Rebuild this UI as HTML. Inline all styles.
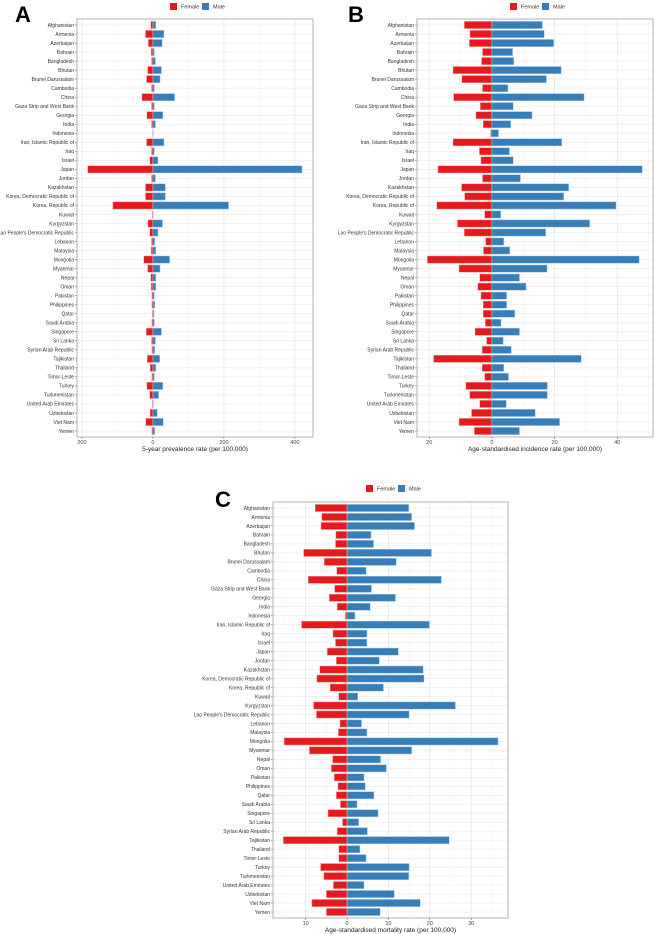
<!DOCTYPE html>
<html><head><meta charset="utf-8">
<style>
html,body{margin:0;padding:0;background:#fff;}
svg{display:block;font-family:"Liberation Sans",sans-serif;}
</style></head>
<body>
<svg id="chart" width="655" height="934" viewBox="0 0 655 934"></svg>
<script>
const countries = ["Afghanistan","Armenia","Azerbaijan","Bahrain","Bangladesh","Bhutan","Brunei Darussalam","Cambodia","China","Gaza Strip and West Bank","Georgia","India","Indonesia","Iran, Islamic Republic of","Iraq","Israel","Japan","Jordan","Kazakhstan","Korea, Democratic Republic of","Korea, Republic of","Kuwait","Kyrgyzstan","Lao People's Democratic Republic","Lebanon","Malaysia","Mongolia","Myanmar","Nepal","Oman","Pakistan","Philippines","Qatar","Saudi Arabia","Singapore","Sri Lanka","Syrian Arab Republic","Tajikistan","Thailand","Timor-Leste","Turkey","Turkmenistan","United Arab Emirates","Uzbekistan","Viet Nam","Yemen"];
const prevFemale = [6,21,13,5,4,15,18,4,31,4,17,4,1,18,4,9,184,4,21,21,113,2,14,9,4,5,26,15,6,5,3,3,2,3,19,4,3,16,8,3,17,9,2,8,20,3];
const prevMale = [8,31,26,4,7,24,20,4,61,4,28,7,1,31,4,14,420,7,35,35,213,1,27,14,5,8,47,20,8,8,4,5,3,4,24,7,5,19,8,4,28,16,0.5,12,29,5];
const incFemale = [8.8,7.0,7.2,3.0,3.3,12.4,9.6,3.0,12.2,3.7,5.1,2.8,0.4,12.4,4.0,3.5,17.2,3.0,9.7,8.7,17.6,2.3,11.0,8.8,2.0,2.7,20.6,10.5,3.9,4.5,3.5,2.8,2.8,2.1,5.4,1.7,3.1,18.6,3.1,2.3,8.3,7.1,3.9,6.5,10.5,5.6];
const incMale = [16.1,16.7,19.7,6.6,7.0,22.1,17.4,5.1,29.4,6.8,12.8,6.0,2.1,22.3,5.6,6.8,48.0,9.1,24.5,22.9,39.6,2.8,31.2,17.2,3.8,5.7,47.0,17.6,8.8,10.9,4.7,4.7,7.3,2.9,8.8,3.6,6.2,28.5,3.8,5.3,17.7,17.7,4.6,13.8,21.6,8.8];
const mortFemale = [7.7,6.1,6.3,2.7,2.8,10.5,5.5,2.5,9.4,3.0,4.3,2.4,0.4,11.0,3.4,2.8,4.8,2.6,6.6,7.3,4.1,2.0,8.1,7.4,1.7,2.1,15.2,9.1,3.5,3.8,3.1,2.2,2.6,1.6,4.6,1.1,2.4,15.4,2.0,2.0,6.4,5.6,3.3,5.0,8.5,5.0];
const mortMale = [14.9,15.6,16.3,5.8,6.4,20.4,11.9,4.6,22.8,5.9,11.7,5.6,1.9,19.9,4.8,4.8,12.4,7.8,18.4,18.6,8.8,2.6,26.2,15.0,3.5,4.8,36.5,15.6,8.1,9.5,4.1,4.4,6.5,2.4,7.5,2.8,4.9,24.7,3.1,4.6,15.0,14.9,4.1,11.4,17.7,8.0];
const prevTicks = [-200,0,200,400];
const prevTickLabels = ["200","0","200","400"];
const incTicks = [-20,0,20,40];
const incTickLabels = ["20","0","20","40"];
const mortTicks = [-10,0,10,20,30];
const mortTickLabels = ["10","0","10","20","30"];

const NS="http://www.w3.org/2000/svg";
const svg=document.getElementById('chart');
function mk(tag,attrs,parent){const e=document.createElementNS(NS,tag);for(const k in attrs)e.setAttribute(k,attrs[k]);(parent||svg).appendChild(e);return e;}

function panel(cfg){
  const g=mk('g',{});
  
  
  const {x0,x1,y0,y1,dmin,dmax}=cfg;
  const xs=v=>x0+(v-dmin)/(dmax-dmin)*(x1-x0);
  const n=countries.length;
  const first=y0+6, last=y1-6;
  const step=(last-first)/(n-1);
  const ys=i=>first+i*step;
  mk('rect',{x:x0,y:y0,width:x1-x0,height:y1-y0,fill:'#fff'},g);
  // minor grid
  const t=cfg.ticks, d=t[1]-t[0];
  for(let v=t[0]-d/2; v<=dmax; v+=d){ if(v<dmin) continue; mk('line',{x1:xs(v),x2:xs(v),y1:y0,y2:y1,stroke:'#f2f2f2','stroke-width':0.5},g);}
  for(let v=t[0]-d; v<=dmax; v+=d){ if(v<dmin) continue; mk('line',{x1:xs(v),x2:xs(v),y1:y0,y2:y1,stroke:'#e6e6e6','stroke-width':0.8},g);}
  for(let i=0;i<n;i++){ mk('line',{x1:x0,x2:x1,y1:ys(i),y2:ys(i),stroke:'#ebebeb','stroke-width':0.7},g);}
  const bh=step*0.8;
  for(let i=0;i<n;i++){
    const z=xs(0);
    const xf=xs(-cfg.female[i]);
    const bf=mk('rect',{x:xf,y:ys(i)-bh/2,width:Math.max(z-xf,0.3),height:bh,fill:'#E41A1C',stroke:'#f4a3a3','stroke-width':0.5},g);
    
    
    const xm=xs(cfg.male[i]);
    const bm=mk('rect',{x:z,y:ys(i)-bh/2,width:Math.max(xm-z,0.3),height:bh,fill:'#377EB8',stroke:'#a9c8e6','stroke-width':0.5},g);
    
    
    const lb=mk('text',{x:x0-3,y:ys(i)+1.8,'font-size':5,'text-anchor':'end',fill:'#333'},g);
    lb.textContent=countries[i];
    
    
    mk('line',{x1:x0-2,x2:x0,y1:ys(i),y2:ys(i),stroke:'#555','stroke-width':0.5},g);
  }
  mk('rect',{x:x0,y:y0,width:x1-x0,height:y1-y0,fill:'none',stroke:'#a0a0a0','stroke-width':0.8},g);
  for(let k=0;k<t.length;k++){
    const x=xs(t[k]);
    mk('line',{x1:x,x2:x,y1:y1,y2:y1+2,stroke:'#555','stroke-width':0.5},g);
    const tl=mk('text',{x:x,y:y1+7,'font-size':5.5,'text-anchor':'middle',fill:'#444'},g);
    tl.textContent=cfg.tickLabels[k];
    
    
  }
  const at=mk('text',{x:(x0+x1)/2,y:y1+14,'font-size':6.5,'text-anchor':'middle',fill:'#222'},g);
  at.textContent=cfg.title;
  
  
  // legend
  const lg=mk('g',{},g);
  
  
  const lx=cfg.legX, ly=cfg.legY;
  mk('rect',{x:lx,y:ly,width:7,height:7,fill:'#E41A1C'},lg);
  const t1=mk('text',{x:lx+11,y:ly+5.5,'font-size':5.5,fill:'#333'},lg); t1.textContent='Female';
  mk('rect',{x:lx+32,y:ly,width:7,height:7,fill:'#377EB8'},lg);
  const t2=mk('text',{x:lx+43,y:ly+5.5,'font-size':5.5,fill:'#333'},lg); t2.textContent='Male';
  const L=mk('text',{x:cfg.letX,y:cfg.letY,'font-size':22,'font-weight':'bold',fill:'#000'},g);
  L.textContent=cfg.letter;
  
  
}
panel({name:'panel-a-prevalence',x0:77,x1:313,y0:19,y1:437,dmin:-214,dmax:451,ticks:prevTicks,tickLabels:prevTickLabels,female:prevFemale,male:prevMale,title:'5-year prevalence rate (per 100,000)',legX:170,legY:3,letX:15,letY:22,letter:'A'});
panel({name:'panel-b-incidence',x0:417,x1:653,y0:19,y1:437,dmin:-23.9,dmax:51.4,ticks:incTicks,tickLabels:incTickLabels,female:incFemale,male:incMale,title:'Age-standardised incidence rate (per 100,000)',legX:510,legY:3,letX:348,letY:22,letter:'B'});
panel({name:'panel-c-mortality',x0:273,x1:508,y0:502,y1:918,dmin:-17.9,dmax:38.9,ticks:mortTicks,tickLabels:mortTickLabels,female:mortFemale,male:mortMale,title:'Age-standardised mortality rate (per 100,000)',legX:366,legY:485,letX:215,letY:507,letter:'C'});
</script>
</body></html>
